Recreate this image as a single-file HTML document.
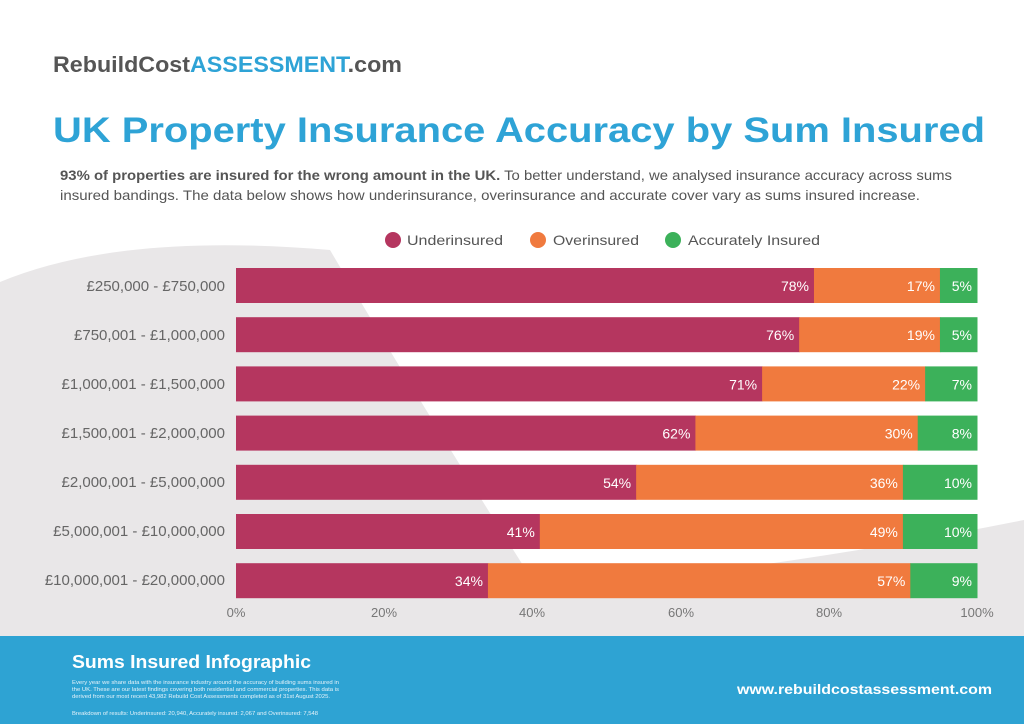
<!DOCTYPE html>
<html><head><meta charset="utf-8"><style>
html,body{margin:0;padding:0;background:#fff}
svg{display:block}
text{font-family:"Liberation Sans",sans-serif}
</style></head><body>
<svg width="1024" height="724" viewBox="0 0 1024 724" xmlns="http://www.w3.org/2000/svg">
<rect width="1024" height="724" fill="#fff"/>
<path d="M0,282 Q120,232 330,250 Q430,420 540,592 Q800,565 1024,520 L1024,636 L0,636 Z" fill="#e9e7e8"/>
<text x="53" y="72" font-size="22" font-weight="bold" fill="#555" textLength="349" lengthAdjust="spacingAndGlyphs">RebuildCost<tspan fill="#2ea3d6">ASSESSMENT</tspan>.com</text>
<text x="53" y="142" font-size="35" font-weight="bold" fill="#2ea3d6" textLength="932" lengthAdjust="spacingAndGlyphs">UK Property Insurance Accuracy by Sum Insured</text>
<text x="60" y="180" font-size="14" fill="#555" textLength="892" lengthAdjust="spacingAndGlyphs"><tspan font-weight="bold">93% of properties are insured for the wrong amount in the UK.</tspan> To better understand, we analysed insurance accuracy across sums</text>
<text x="60" y="200" font-size="14" fill="#555" textLength="860" lengthAdjust="spacingAndGlyphs">insured bandings. The data below shows how underinsurance, overinsurance and accurate cover vary as sums insured increase.</text>
<g font-size="14" fill="#555">
<circle cx="393" cy="240" r="8" fill="#b5365f"/><text x="407" y="245" textLength="96" lengthAdjust="spacingAndGlyphs">Underinsured</text>
<circle cx="538" cy="240" r="8" fill="#f07a3e"/><text x="553" y="245" textLength="86" lengthAdjust="spacingAndGlyphs">Overinsured</text>
<circle cx="673" cy="240" r="8" fill="#3cb15a"/><text x="688" y="245" textLength="132" lengthAdjust="spacingAndGlyphs">Accurately Insured</text>
</g>
<g id="bars" font-size="14" fill="#fff" text-anchor="end">
</g>
<g font-size="15" fill="#666" text-anchor="end">
<text x="225" y="291">£250,000 - £750,000</text>
<text x="225" y="340">£750,001 - £1,000,000</text>
<text x="225" y="389">£1,000,001 - £1,500,000</text>
<text x="225" y="438">£1,500,001 - £2,000,000</text>
<text x="225" y="487">£2,000,001 - £5,000,000</text>
<text x="225" y="536">£5,000,001 - £10,000,000</text>
<text x="225" y="585">£10,000,001 - £20,000,000</text>
</g>
<g font-size="13" fill="#777" text-anchor="middle">
<text x="236" y="617">0%</text><text x="384" y="617">20%</text><text x="532" y="617">40%</text>
<text x="681" y="617">60%</text><text x="829" y="617">80%</text><text x="977" y="617">100%</text>
</g>
<rect x="0" y="636" width="1024" height="88" fill="#2ea3d3"/>
<text x="72" y="668" font-size="18" font-weight="bold" fill="#fff" textLength="239" lengthAdjust="spacingAndGlyphs">Sums Insured Infographic</text>
<g font-size="5.5" fill="#e6f3fa">
<text x="72" y="684" textLength="267" lengthAdjust="spacingAndGlyphs">Every year we share data with the insurance industry around the accuracy of building sums insured in</text>
<text x="72" y="691" textLength="267" lengthAdjust="spacingAndGlyphs">the UK. These are our latest findings covering both residential and commercial properties. This data is</text>
<text x="72" y="698" textLength="258" lengthAdjust="spacingAndGlyphs">derived from our most recent 43,982 Rebuild Cost Assessments completed as of 31st August 2025.</text>
<text x="72" y="715" textLength="246" lengthAdjust="spacingAndGlyphs">Breakdown of results: Underinsured: 20,940, Accurately insured: 2,067 and Overinsured: 7,548</text>
</g>
<text x="737" y="694" font-size="14" font-weight="bold" fill="#fff" textLength="255" lengthAdjust="spacingAndGlyphs">www.rebuildcostassessment.com</text>
</svg>
<script>
var d=[[78,17,5],[76,19,5],[71,22,7],[62,30,8],[54,36,10],[41,49,10],[34,57,9]];
var c=["#b5365f","#f07a3e","#3cb15a"],g=document.getElementById("bars"),ns="http://www.w3.org/2000/svg";
var x0=236,W=741;
d.forEach(function(r,i){var y=268+i*49.2,x=x0;r.forEach(function(v,j){var w=W*v/100;
var re=document.createElementNS(ns,"rect");re.setAttribute("x",x);re.setAttribute("y",y);re.setAttribute("width",w+0.5);re.setAttribute("height",35);re.setAttribute("fill",c[j]);g.appendChild(re);
var t=document.createElementNS(ns,"text");t.setAttribute("x",x+w-5);t.setAttribute("y",y+23);t.textContent=v+"%";g.appendChild(t);x+=w;});});
</script>
</body></html>
